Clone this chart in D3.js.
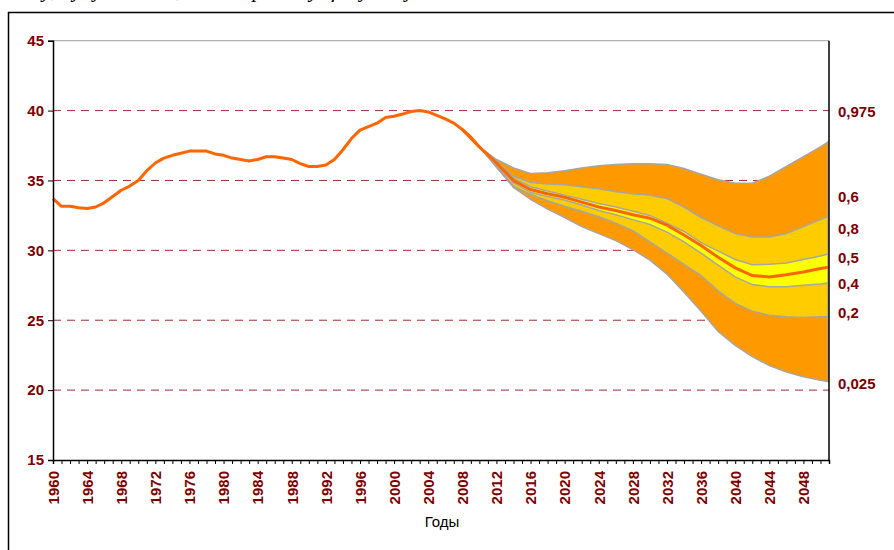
<!DOCTYPE html>
<html>
<head>
<meta charset="utf-8">
<script src="https://cdn.jsdelivr.net/npm/d3@7"></script>
<style>
  body { margin: 0; background: #fff; }
  svg { display: block; font-family: Arial, "Liberation Sans", sans-serif; }
</style>
</head>
<body>
<div id="chart"></div>
<script>
// donnees historiques 1960-2010
const histYears = d3.range(1960, 2011);
const histValues = [
  33.7, 33.15, 33.15, 33.05, 33.0, 33.1, 33.4, 33.85, 34.3, 34.6,
  35.0, 35.7, 36.25, 36.6, 36.8, 36.95, 37.1, 37.1, 37.1, 36.9,
  36.8, 36.6, 36.5, 36.4, 36.5, 36.7, 36.7, 36.6, 36.5, 36.2,
  36.0, 36.0, 36.1, 36.5, 37.2, 38.0, 38.6, 38.85, 39.1, 39.5,
  39.6, 39.75, 39.93, 40.0, 39.9, 39.65, 39.4, 39.1, 38.65, 38.1,
  37.4
];

// prevision (fan chart)
const fcYears = [2008, 2010, 2012, 2014, 2016, 2018, 2020, 2022, 2024, 2026, 2028, 2030,
                 2032, 2034, 2036, 2038, 2040, 2042, 2044, 2046, 2048, 2050, 2051];
const p975 = [38.65, 37.4, 36.5, 35.9, 35.5, 35.55, 35.7, 35.9, 36.05, 36.15, 36.2, 36.2,
              36.15, 35.85, 35.45, 35.05, 34.8, 34.8, 35.3, 36.0, 36.7, 37.4, 37.8];
const p80  = [38.65, 37.4, 36.35, 35.3, 34.85, 34.75, 34.7, 34.55, 34.4, 34.2, 34.05, 33.95,
              33.7, 33.1, 32.35, 31.75, 31.2, 30.95, 30.95, 31.2, 31.7, 32.2, 32.45];
const p60  = [38.65, 37.4, 36.3, 35.15, 34.55, 34.25, 33.95, 33.65, 33.35, 33.1, 32.8, 32.5,
              31.95, 31.35, 30.55, 29.95, 29.35, 28.97, 29.0, 29.1, 29.35, 29.6, 29.76];
const p50  = [38.65, 37.4, 36.25, 35.0, 34.35, 34.05, 33.8, 33.45, 33.1, 32.85, 32.55, 32.3,
              31.8, 31.1, 30.35, 29.5, 28.75, 28.2, 28.1, 28.25, 28.45, 28.7, 28.8];
const p40  = [38.65, 37.4, 36.2, 34.85, 34.15, 33.85, 33.6, 33.25, 32.85, 32.55, 32.2, 31.85,
              31.3, 30.6, 29.8, 28.95, 28.1, 27.55, 27.4, 27.4, 27.5, 27.6, 27.69];
const p20  = [38.65, 37.4, 36.1, 34.6, 34.0, 33.55, 33.15, 32.8, 32.4, 31.95, 31.4, 30.6,
              29.8, 29.0, 28.2, 27.1, 26.2, 25.65, 25.35, 25.25, 25.2, 25.25, 25.26];
const p025 = [38.65, 37.4, 35.95, 34.5, 33.65, 32.95, 32.35, 31.7, 31.2, 30.7, 30.05, 29.3,
              28.3, 27.0, 25.65, 24.2, 23.2, 22.4, 21.75, 21.3, 20.95, 20.7, 20.6];

const yTicks = [15, 20, 25, 30, 35, 40, 45];
const gridValues = [20, 25, 30, 35, 40];
// etiquettes a droite et leur niveau
const rightLabels = ["0,975", "0,6", "0,8", "0,5", "0,4", "0,2", "0,025"];
const rightLabelLevels = [39.95, 33.85, 31.55, 29.45, 27.6, 25.55, 20.45];

const W = 894, H = 550;
const plot = {left: 53, right: 829, top: 40.7, bottom: 460};
const darkRed = "#800000";

const svg = d3.select("#chart").append("svg")
  .attr("width", W)
  .attr("height", H);

// texte coupe en haut (ligne du document, seules les jambages sont visibles)
svg.append("text")
  .attr("x", 12)
  .attr("y", -3)
  .style("font-family", "'Liberation Serif', 'DejaVu Serif', serif")
  .style("font-style", "italic")
  .style("font-size", "22px")
  .attr("fill", "#000")
  .text("году, будут ниже, чем в предыдущему году");

// cadre exterieur
svg.append("rect")
  .attr("x", 8.5).attr("y", 12.5)
  .attr("width", 900).attr("height", 560)
  .attr("fill", "none")
  .attr("stroke", "#000")
  .attr("stroke-width", 1.5);

const x = d3.scaleLinear().domain([1960, 2051]).range([plot.left, plot.right]);
const y = d3.scaleLinear().domain([15, 45]).range([plot.bottom, plot.top]);

// grille en pointilles
svg.append("g").selectAll("line")
  .data(gridValues)
  .enter().append("line")
  .attr("x1", plot.left).attr("x2", plot.right)
  .attr("y1", d => y(d)).attr("y2", d => y(d))
  .attr("stroke", "#9b2f2f")
  .attr("stroke-width", 1)
  .attr("stroke-dasharray", "8,6");

// bandes
const bands = [
  {hi: p975, lo: p025, color: "#ff9900"},
  {hi: p80, lo: p20, color: "#ffcc00"},
  {hi: p60, lo: p40, color: "#ffff00"}
];
const area = d3.area()
  .x((d, i) => x(fcYears[i]))
  .y0(d => y(d[1]))
  .y1(d => y(d[0]));

bands.forEach(b => {
  svg.append("path")
    .datum(b.hi.map((v, i) => [v, b.lo[i]]))
    .attr("d", area)
    .attr("fill", b.color);
});

const line = d3.line()
  .x(d => x(d[0]))
  .y(d => y(d[1]));

// bords gris des bandes
[p975, p80, p60, p40, p20, p025].forEach(s => {
  svg.append("path")
    .datum(fcYears.map((yr, i) => [yr, s[i]]))
    .attr("d", line)
    .attr("fill", "none")
    .attr("stroke", "#a6a6a6")
    .attr("stroke-width", 1.5);
});
// bord droit du fan
svg.append("line")
  .attr("x1", x(2051) - 1).attr("x2", x(2051) - 1)
  .attr("y1", y(p975[p975.length - 1])).attr("y2", y(p025[p025.length - 1]))
  .attr("stroke", "#a6a6a6").attr("stroke-width", 1.5);

// mediane
svg.append("path")
  .datum(fcYears.map((yr, i) => [yr, p50[i]]))
  .attr("d", line)
  .attr("fill", "none")
  .attr("stroke", "#ff6600")
  .attr("stroke-width", 3);

// serie historique
svg.append("path")
  .datum(histYears.map((yr, i) => [yr, histValues[i]]))
  .attr("d", line)
  .attr("fill", "none")
  .attr("stroke", "#ff6600")
  .attr("stroke-width", 3)
  .attr("stroke-linejoin", "round");

// cadre de la zone graphique
svg.append("line")
  .attr("x1", plot.left).attr("x2", plot.right)
  .attr("y1", plot.top).attr("y2", plot.top)
  .attr("stroke", "#a0a0a0").attr("stroke-width", 1);
svg.append("line")
  .attr("x1", plot.right).attr("x2", plot.right)
  .attr("y1", plot.top).attr("y2", plot.bottom)
  .attr("stroke", "#000").attr("stroke-width", 1.5);

// axe Y
const yAxis = d3.axisLeft(y)
  .tickValues(yTicks)
  .tickSize(5)
  .tickPadding(4)
  .tickFormat(d3.format("d"));
const gy = svg.append("g")
  .attr("transform", "translate(" + plot.left + ",0)")
  .call(yAxis);
gy.select(".domain").attr("stroke", "#000").attr("stroke-width", 1.5);
gy.selectAll(".tick line").attr("stroke", "#000");
gy.selectAll("text")
  .attr("fill", darkRed)
  .style("font-size", "15px")
  .style("font-weight", "bold")
  .style("font-family", "Arial, 'Liberation Sans', sans-serif");

// axe X : un tick par an, etiquette tous les 4 ans
const xAxis = d3.axisBottom(x)
  .tickValues(d3.range(1960, 2052))
  .tickSize(4)
  .tickPadding(6)
  .tickFormat(d => (d - 1960) % 4 === 0 ? d : "");
const gx = svg.append("g")
  .attr("transform", "translate(0," + plot.bottom + ")")
  .call(xAxis);
gx.select(".domain").attr("stroke", "#000").attr("stroke-width", 1.5);
gx.selectAll(".tick line").attr("stroke", "#000");
gx.selectAll("text")
  .attr("fill", darkRed)
  .style("font-size", "15px")
  .style("font-weight", "bold")
  .style("font-family", "Arial, 'Liberation Sans', sans-serif")
  .attr("transform", "rotate(-90)")
  .attr("text-anchor", "end")
  .attr("x", -11)
  .attr("y", 0)
  .attr("dy", "0.35em");

// titre axe X
svg.append("text")
  .attr("x", 442)
  .attr("y", 527)
  .attr("text-anchor", "middle")
  .style("font-size", "15px")
  .attr("fill", "#000")
  .text("Годы");

// etiquettes des quantiles
svg.append("g").selectAll("text")
  .data(rightLabels)
  .enter().append("text")
  .attr("x", plot.right + 9)
  .attr("y", (d, i) => y(rightLabelLevels[i]))
  .attr("dy", "0.35em")
  .attr("fill", darkRed)
  .style("font-size", "15px")
  .style("font-weight", "bold")
  .text(d => d);
</script>
</body>
</html>
